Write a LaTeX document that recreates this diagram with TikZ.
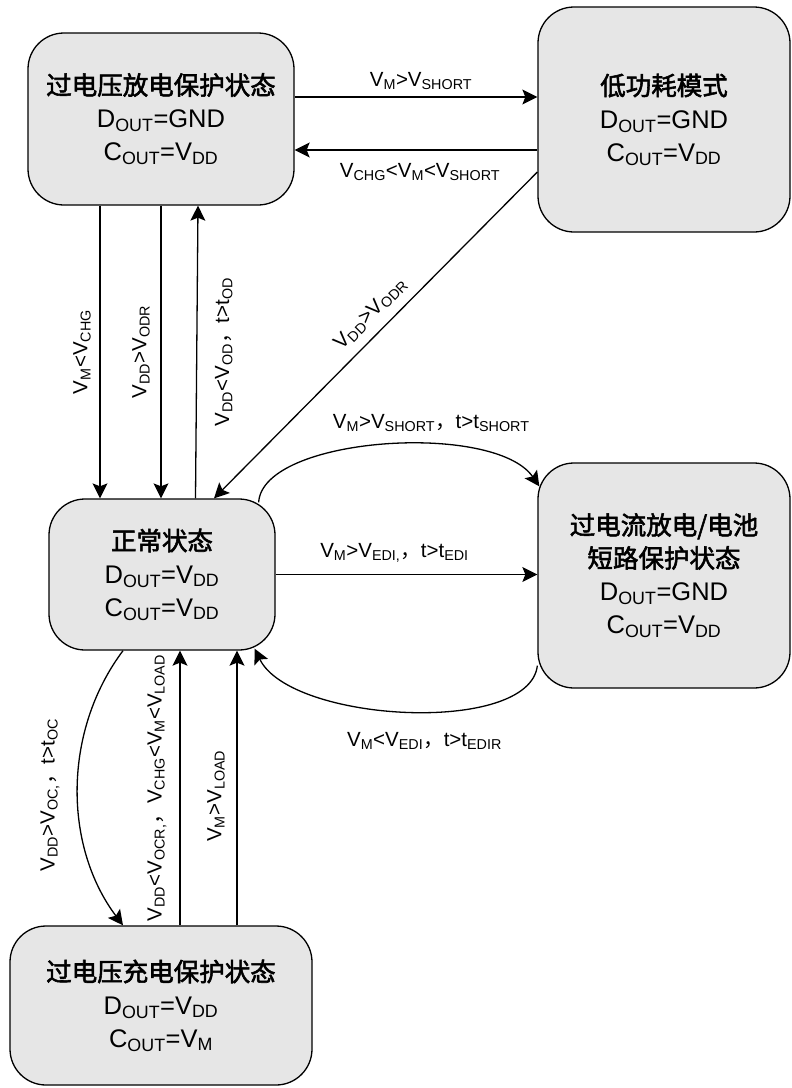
\documentclass[tikz,border=0pt]{standalone}
\usepackage{fontspec}
\setmainfont{Liberation Sans}
\newfontfamily\cjk{Noto Sans CJK SC}
\newfontfamily\cjkb{Noto Sans CJK SC}[FakeBold=2.2]
\usetikzlibrary{arrows.meta,calc}
\definecolor{boxfill}{RGB}{230,230,230}
\newcommand{\subs}[1]{\textsubscript{#1}}
\newcommand{\zh}[1]{{\cjkb #1}}
\newcommand{\fwc}{{\cjk ，}}
\newcommand{\boxfont}{\fontsize{25.5}{33}\selectfont}
\newcommand{\labfont}{\fontsize{20.5}{24}\selectfont}

\begin{document}
\begin{tikzpicture}[x=1pt,y=-1pt,>={Stealth[length=15pt,width=15pt,inset=3pt]},line width=1.3pt,
  state/.style={draw,fill=boxfill,rounded corners=36pt,align=center,font=\boxfont,inner sep=0pt},
  lab/.style={font=\labfont,inner sep=2pt}]
  \useasboundingbox (0,0) rectangle (792,1088);
  % states
  \node[state,minimum width=266pt,minimum height=172pt] (odis) at (161,119)
    {\zh{过电压放电保护状态}\\D\subs{OUT}=GND\\C\subs{OUT}=V\subs{DD}};
  \node[state,minimum width=252pt,minimum height=225pt] (lowp) at (664,119.5)
    {\zh{低功耗模式}\\D\subs{OUT}=GND\\C\subs{OUT}=V\subs{DD}};
  \node[state,minimum width=226pt,minimum height=151pt] (normal) at (162,574.5)
    {\zh{正常状态}\\D\subs{OUT}=V\subs{DD}\\C\subs{OUT}=V\subs{DD}};
  \node[state,minimum width=252pt,minimum height=225pt] (short) at (664,575.5)
    {\zh{过电流放电/电池}\\\zh{短路保护状态}\\D\subs{OUT}=GND\\C\subs{OUT}=V\subs{DD}};
  \node[state,minimum width=302pt,minimum height=159pt] (ochg) at (161,1005.5)
    {\zh{过电压充电保护状态}\\D\subs{OUT}=V\subs{DD}\\C\subs{OUT}=V\subs{M}};
  % connector ends
  \coordinate (od1) at ($(odis.south)+(-61,0)$);
  \coordinate (oc1) at ($(ochg.north)+(19,0)$);
  \coordinate (oc2) at ($(ochg.north)+(76,0)$);
  % top row
  \draw[->] ($(odis.east)+(0,-22)$) -- ($(lowp.west)+(0,-22.5)$)
    node[midway,lab,xshift=5pt,yshift=16pt] {V\subs{M}>V\subs{SHORT}};
  \draw[->] ($(lowp.west)+(0,30.5)$) -- ($(odis.east)+(0,31)$)
    node[midway,lab,xshift=4pt,yshift=-22pt] {V\subs{CHG}<V\subs{M}<V\subs{SHORT}};
  % left column, upper half
  \draw[->] (od1) -- (od1 |- normal.north)
    node[midway,lab,xshift=-18pt,rotate=90] {V\subs{M}<V\subs{CHG}};
  \draw[->] (odis.south) -- (odis.south |- normal.north)
    node[midway,lab,xshift=-20pt,rotate=90] {V\subs{DD}>V\subs{ODR}};
  \draw[->] ($(normal.north)+(33.5,0)$) -- ($(odis.south)+(37,0)$)
    node[midway,lab,xshift=27pt,rotate=90] {V\subs{DD}<V\subs{OD}\fwc t>t\subs{OD}};
  \draw[->] ($(lowp.west)+(0,52.5)$) -- ($(normal.north)+(52,0)$)
    node[pos=0.475,lab,sloped,anchor=south,outer sep=8pt] {V\subs{DD}>V\subs{ODR}};
  % middle row
  \draw[->] ($(normal.north east)+(-17,4)$) .. controls +(4,-66) and +(-45,-65) .. ($(short.north west)+(2,24)$)
    node[pos=0.6,lab,xshift=9pt,yshift=22pt] {V\subs{M}>V\subs{SHORT}\fwc t>t\subs{SHORT}};
  \draw[->] (normal.east) -- (normal.east -| short.west)
    node[midway,lab,xshift=-12pt,yshift=22pt] {V\subs{M}>V\subs{EDI,}\fwc t>t\subs{EDI}};
  \draw[->] ($(short.south west)+(0,-23)$) .. controls +(-8,70) and +(36,74) .. ($(normal.south east)+(-21,-2)$)
    node[pos=0.5,lab,xshift=18pt,yshift=-30pt] {V\subs{M}<V\subs{EDI}\fwc t>t\subs{EDIR}};
  % left column, lower half
  \draw[->] ($(normal.south)+(-39,0)$) .. controls +(-60,80) and +(-60,-80) .. ($(ochg.north)+(-38,0)$)
    node[pos=0.5,lab,xshift=-28pt,yshift=-7pt,rotate=90] {V\subs{DD}>V\subs{OC,}\fwc t>t\subs{OC}};
  \draw[->] (oc1) -- (oc1 |- normal.south)
    node[midway,lab,xshift=-23pt,rotate=90] {V\subs{DD}<V\subs{OCR,}\fwc V\subs{CHG}<V\subs{M}<V\subs{LOAD}};
  \draw[->] (oc2) -- (oc2 |- normal.south)
    node[midway,lab,xshift=-21pt,yshift=-8pt,rotate=90] {V\subs{M}>V\subs{LOAD}};
\end{tikzpicture}
\end{document}
